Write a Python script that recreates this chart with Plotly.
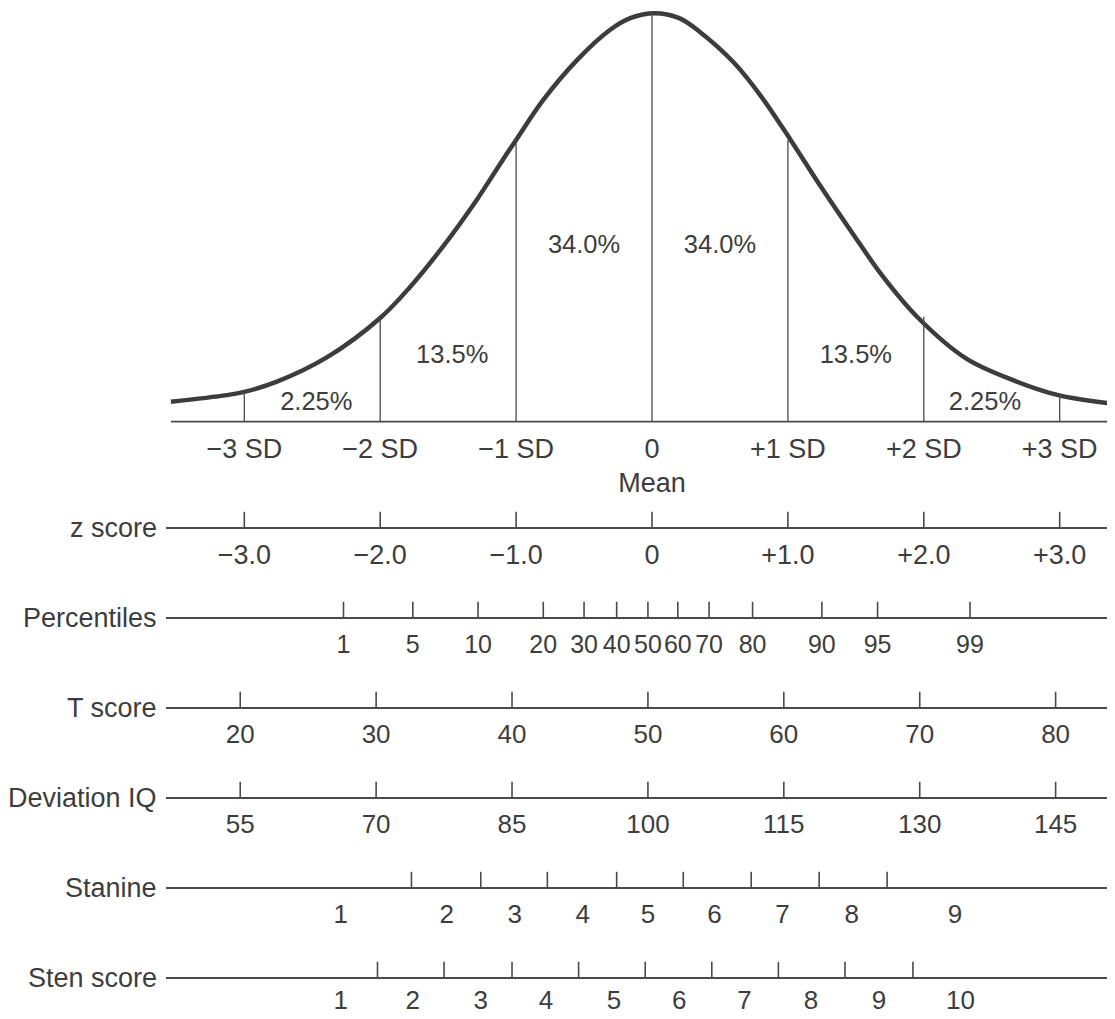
import plotly.graph_objects as go

# ---------------- data ----------------
# normal curve: position in SD units, relative height (peak = 1)
curve_z = [-3.54, -3.13, -3.0, -2.76, -2.39, -2.0, -1.78, -1.54, -1.29,
           -1.12, -1.0, -0.80, -0.55, -0.31, -0.16, 0.02, 0.20, 0.35, 0.60, 0.80,
           1.02, 1.21, 1.46, 1.70, 1.95, 2.31, 2.67, 2.99, 3.41]
curve_h = [0.049, 0.065, 0.073, 0.098, 0.158, 0.254, 0.330, 0.428, 0.543,
           0.630, 0.690, 0.788, 0.886, 0.959, 0.988, 1.0, 0.988, 0.955, 0.880, 0.798,
           0.690, 0.592, 0.469, 0.355, 0.257, 0.155, 0.100, 0.065, 0.043]

sd_pos = [-3, -2, -1, 0, 1, 2, 3]
sd_labels = ["\u22123 SD", "\u22122 SD", "\u22121 SD", "0", "+1 SD", "+2 SD", "+3 SD"]
sd_line_h = [0.073, 0.254, 0.690, 1.0, 0.690, 0.257, 0.068]

area_labels = ["2.25%", "13.5%", "34.0%", "34.0%", "13.5%", "2.25%"]
area_x = [-2.47, -1.47, -0.50, 0.50, 1.50, 2.45]
area_y = [0.045, 0.160, 0.428, 0.428, 0.160, 0.045]

row_names = ["z score", "Percentiles", "T score", "Deviation IQ", "Stanine", "Sten score"]

z_ticks = [-3, -2, -1, 0, 1, 2, 3]
z_labels = ["\u22123.0", "\u22122.0", "\u22121.0", "0", "+1.0", "+2.0", "+3.0"]

pct_ticks = [-2.27, -1.76, -1.28, -0.80, -0.50, -0.26, -0.03, 0.19, 0.42, 0.74, 1.25, 1.66, 2.34]
pct_labels = ["1", "5", "10", "20", "30", "40", "50", "60", "70", "80", "90", "95", "99"]

t_ticks = [-3.03, -2.03, -1.03, -0.03, 0.97, 1.97, 2.97]
t_labels = ["20", "30", "40", "50", "60", "70", "80"]

iq_ticks = [-3.03, -2.03, -1.03, -0.03, 0.97, 1.97, 2.97]
iq_labels = ["55", "70", "85", "100", "115", "130", "145"]

stanine_ticks = [-1.77, -1.26, -0.77, -0.26, 0.23, 0.73, 1.23, 1.73]
stanine_label_pos = [-2.29, -1.51, -1.01, -0.51, -0.03, 0.46, 0.96, 1.47, 2.23]
stanine_labels = ["1", "2", "3", "4", "5", "6", "7", "8", "9"]

sten_ticks = [-2.02, -1.53, -1.03, -0.54, -0.05, 0.44, 0.93, 1.42, 1.92]
sten_label_pos = [-2.29, -1.76, -1.26, -0.78, -0.28, 0.20, 0.68, 1.17, 1.67, 2.27]
sten_labels = ["1", "2", "3", "4", "5", "6", "7", "8", "9", "10"]

# ---------------- styling / layout constants ----------------
WIN_W, WIN_H = 1115, 1019
PAGE_MARGIN = 8                     # default body margin of the html page
W, H = WIN_W - PAGE_MARGIN, WIN_H - PAGE_MARGIN
PX_PER_SD = 135.9
MEAN_PX = 652.0 - PAGE_MARGIN
X_RANGE = [-MEAN_PX / PX_PER_SD, (W - MEAN_PX) / PX_PER_SD]
FONT = "Liberation Sans, Arial, Helvetica, sans-serif"
TXT = "#3d3d3d"
LINE = "#4a4a4a"
FS_ROW = 27
FS_TICK = 26
FS_PCT = 25
FS_AREA = 25.5

TICK_H = 0.18      # row units
LABEL_OFF = 0.32   # row units
LINE_START = (166 - PAGE_MARGIN - MEAN_PX) / PX_PER_SD
LABEL_RIGHT = (159 - PAGE_MARGIN - MEAN_PX) / PX_PER_SD

fig = go.Figure()

# curve
fig.add_trace(go.Scatter(x=curve_z, y=curve_h, mode="lines",
                         line=dict(color="#3c3c3c", width=4.5, shape="spline", smoothing=1.0),
                         hoverinfo="skip", yaxis="y"))
# baseline
fig.add_trace(go.Scatter(x=[curve_z[0], X_RANGE[1]], y=[0, 0], mode="lines",
                         line=dict(color=LINE, width=1.8), yaxis="y", hoverinfo="skip"))
# SD verticals
vx, vy = [], []
for p, h in zip(sd_pos, sd_line_h):
    vx += [p, p, None]
    vy += [0, h, None]
fig.add_trace(go.Scatter(x=vx, y=vy, mode="lines", line=dict(color=LINE, width=1.3),
                         yaxis="y", hoverinfo="skip"))
# area labels
fig.add_trace(go.Scatter(x=area_x, y=area_y, mode="text", text=area_labels,
                         textfont=dict(family=FONT, size=FS_AREA, color=TXT),
                         yaxis="y", cliponaxis=False, hoverinfo="skip"))

# SD labels + Mean (on row axis)
fig.add_trace(go.Scatter(x=sd_pos, y=[-0.85] * len(sd_pos), mode="text", text=sd_labels,
                         textfont=dict(family=FONT, size=FS_ROW, color=TXT),
                         yaxis="y2", cliponaxis=False, hoverinfo="skip"))
fig.add_trace(go.Scatter(x=[0], y=[-0.48], mode="text", text=["Mean"],
                         textfont=dict(family=FONT, size=FS_ROW, color=TXT),
                         yaxis="y2", cliponaxis=False, hoverinfo="skip"))

rows = [
    (z_ticks, z_ticks, z_labels, FS_ROW),
    (pct_ticks, pct_ticks, pct_labels, FS_PCT),
    (t_ticks, t_ticks, t_labels, FS_TICK),
    (iq_ticks, iq_ticks, iq_labels, FS_TICK),
    (stanine_ticks, stanine_label_pos, stanine_labels, FS_TICK),
    (sten_ticks, sten_label_pos, sten_labels, FS_TICK),
]

for r, (ticks, lpos, labels, fs) in enumerate(rows):
    fig.add_trace(go.Scatter(x=[LINE_START, X_RANGE[1]], y=[r, r], mode="lines",
                             line=dict(color=LINE, width=2), yaxis="y2", hoverinfo="skip"))
    tx, ty = [], []
    for t in ticks:
        tx += [t, t, None]
        ty += [r, r - TICK_H, None]
    fig.add_trace(go.Scatter(x=tx, y=ty, mode="lines", line=dict(color=LINE, width=1.6),
                             yaxis="y2", hoverinfo="skip"))
    off = LABEL_OFF if r < len(rows) - 1 else 0.27
    fig.add_trace(go.Scatter(x=lpos, y=[r + off] * len(lpos), mode="text", text=labels,
                             textfont=dict(family=FONT, size=fs, color=TXT),
                             yaxis="y2", cliponaxis=False, hoverinfo="skip"))
    fig.add_annotation(x=LABEL_RIGHT, y=r, xref="x", yref="y2", text=row_names[r],
                       showarrow=False, xanchor="right", yanchor="middle",
                       font=dict(family=FONT, size=FS_ROW, color=TXT))

# axes geometry (pixel-matched, in figure pixels)
base_px, peak_px = 421.7 - PAGE_MARGIN, 13.3 - PAGE_MARGIN
unit = base_px - peak_px
y_lo, y_hi = -0.02, 1.012
dom_bottom_px = base_px - y_lo * unit
dom_top_px = max(base_px - y_hi * unit, 0.0)
y_hi = (base_px - dom_top_px) / unit
row0_px, row_step = 528.0 - PAGE_MARGIN, 90.0
r_top = (dom_bottom_px - row0_px) / row_step
r_bot = (H - row0_px) / row_step

fig.update_layout(
    width=W, height=H,
    margin=dict(l=0, r=0, t=0, b=0),
    paper_bgcolor="white", plot_bgcolor="white",
    showlegend=False,
    xaxis=dict(range=X_RANGE, visible=False, fixedrange=True),
    yaxis=dict(range=[y_lo, y_hi], visible=False,
               domain=[(H - dom_bottom_px) / H, (H - dom_top_px) / H]),
    yaxis2=dict(range=[r_bot, r_top], visible=False,
                domain=[0, (H - dom_bottom_px) / H]),
)

fig.write_html("out.html")
